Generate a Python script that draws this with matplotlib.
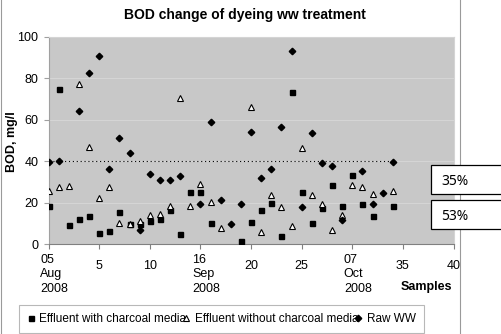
import numpy as np
import matplotlib.pyplot as plt
from matplotlib import patches, transforms

nan = np.nan

# BOD (mg/l) per sample, 05 Aug 2008 onwards
samples = np.arange(35)
with_charcoal = [18.6, 74.7, 9.3, 12.2, 13.8, 5.4, 6.5, 15.7, 9.6, 9.7,
                 11.0, 12.2, 16.5, 5.0, 25.3, 25.0, 10.4, nan, nan, 1.6,
                 10.8, 16.7, 19.7, 4.0, 73.2, 25.0, 10.4, 17.7, 28.4, 18.5,
                 33.4, 19.4, 13.6, nan, 18.4]
without_charcoal = [25.5, 27.6, 28.0, 77.2, 46.7, 22.2, 27.5, 10.4, 9.7, 11.3,
                    14.0, 14.6, 18.6, 70.3, 18.4, 29.0, 20.5, 8.0, nan, nan,
                    66.0, 5.7, 23.7, 18.0, 9.0, 46.6, 23.7, 19.2, 6.8, 14.1,
                    28.6, 27.8, 24.2, nan, 25.7]
raw_ww = [39.5, 40.0, nan, 64.0, 82.4, 90.7, 36.1, 51.0, 43.8, 6.9,
          33.7, 31.0, 31.0, 33.0, nan, 19.4, 59.0, 21.3, 9.7, 19.4,
          54.0, 32.0, 36.5, 56.6, 93.3, 18.2, 53.5, 39.4, 37.9, 11.8,
          nan, 35.5, 19.4, 24.6, 39.5]
limit = 40

xticks = [0, 5, 10, 15, 20, 25, 30, 35, 40]
xticklabels = ['05\nAug\n2008', '5', '10', '16\nSep\n2008', '20', '25',
               '07\nOct\n2008', '35', '40']
removal = ['35%', '53%']

plt.rcParams['font.family'] = ['Liberation Sans', 'DejaVu Sans']

fig = plt.figure(figsize=(5.01, 3.34), dpi=100)
W, H = 501, 334
ax = fig.add_axes([48.5 / W, 1 - 244.3 / H, 405 / W, 207.6 / H])
ax.set_facecolor('#c8c8c8')

ax.plot(samples, with_charcoal, ls='none', marker='s', ms=3.6, color='black',
        label='Effluent with charcoal media', zorder=3)
ax.plot(samples, without_charcoal, ls='none', marker='^', ms=4.8, mfc='white',
        mec='black', mew=0.8, label='Effluent without charcoal media', zorder=3)
ax.plot(samples, raw_ww, ls='none', marker='D', ms=3.3, color='black',
        label='Raw WW', zorder=3)
ax.hlines(limit, samples[0], samples[-1], colors='black', lw=0.8,
          linestyles=(0, (1, 2.5)), zorder=2)

ax.set_xlim(0, 40)
ax.set_ylim(0, 100)
ax.set_yticks(range(0, 101, 20))
ax.yaxis.grid(True, color='#d8d8d8', lw=0.6)
ax.set_axisbelow(True)
ax.set_xticks(xticks)
ax.set_xticklabels(xticklabels, fontsize=9)
ax.tick_params(axis='x', length=3.4, pad=8, color='#808080')
ax.tick_params(axis='y', length=3.4, pad=3.8, labelsize=9, color='#a0a0a0')
shift = transforms.ScaledTranslation(4 / 72, 4.5 / 72, fig.dpi_scale_trans)
for lab in ax.get_xticklabels():
    if '\n' in lab.get_text():
        lab.set_multialignment('left')
        lab.set_linespacing(1.28)
        lab.set_transform(lab.get_transform() + shift)

for side in ['top', 'right']:
    ax.spines[side].set_color('#d4d4d4')
ax.spines['left'].set_color('#a0a0a0')
ax.spines['bottom'].set_color('#808080')

fig.text(245 / W, 1 - 15 / H, 'BOD change of dyeing ww treatment',
         ha='center', va='center', fontsize=10, weight='bold')
fig.text(12.5 / W, 1 - 142 / H, 'BOD, mg/l', rotation=90, ha='center',
         va='center', fontsize=9, weight='bold')
fig.text(452 / W, 1 - 287 / H, 'Samples', ha='right', va='center',
         fontsize=9, weight='bold')

leg = fig.legend(loc='center', bbox_to_anchor=(221.5 / W, 1 - 319 / H),
                 bbox_transform=fig.transFigure, ncol=3, fontsize=8.5,
                 frameon=True, fancybox=False, framealpha=1,
                 handlelength=0.6, handletextpad=0.42, columnspacing=-0.3,
                 borderpad=0.7)
leg.get_frame().set_edgecolor('#b8b8b8')
leg.get_frame().set_linewidth(0.8)

# outer chart border
fig.patches.append(patches.Rectangle((0.8 / W, -0.1), 459.5 / W, 1.2,
                                     transform=fig.transFigure, fill=False,
                                     edgecolor='#9a9a9a', lw=0.8))

# removal percentage boxes
for i, txt in enumerate(removal):
    top = [165, 200][i]
    fig.patches.append(patches.Rectangle((430.5 / W, 1 - (top + 28.5) / H),
                                         75 / W, 28.5 / H,
                                         transform=fig.transFigure,
                                         facecolor='white', edgecolor='black',
                                         lw=0.9, zorder=5))
    fig.text(441.5 / W, 1 - (top + 16.5) / H, txt, ha='left', va='center',
             fontsize=10, family='Noto Sans', zorder=6)

fig.savefig('out.png', dpi=100)
